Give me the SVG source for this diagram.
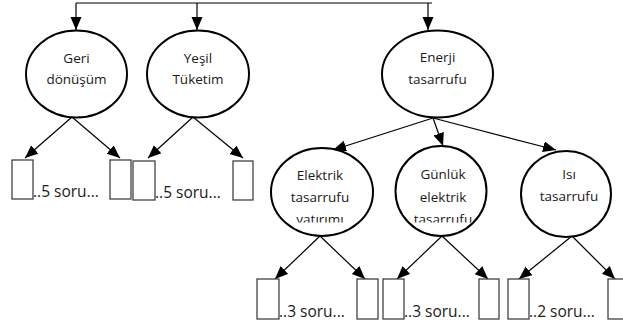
<svg xmlns="http://www.w3.org/2000/svg" width="623" height="326" viewBox="0 0 623 326">
<style>
.node ellipse{fill:#fff;stroke:#000;stroke-width:2}
.lbl{font-family:"Open Sans","Liberation Sans",sans-serif;font-size:13.5px;fill:#1a1a1a;text-anchor:middle}
.box{fill:#fff;stroke:#333;stroke-width:1.2}
.cnt{font-family:"Open Sans","Liberation Sans",sans-serif;font-size:15.5px;fill:#1a1a1a}
#connectors path,#connectors line{stroke:#000;stroke-width:1.2;fill:none}
</style>
<defs>
<marker id="ah" markerUnits="userSpaceOnUse" markerWidth="15" markerHeight="12" refX="13" refY="5.5" orient="auto">
<path d="M0,0 L13,5.5 L0,11 Z" fill="#000"/>
</marker>
<clipPath id="clip3"><rect x="0" y="0" width="623" height="222.5"/></clipPath>
</defs>
<g id="connectors">
<path d="M76,3 H432"/>
<line x1="76" y1="3" x2="76" y2="30" marker-end="url(#ah)"/>
<line x1="197" y1="3" x2="197" y2="30" marker-end="url(#ah)"/>
<line x1="428" y1="3" x2="428" y2="30" marker-end="url(#ah)"/>
<line x1="72" y1="117" x2="25" y2="158" marker-end="url(#ah)"/>
<line x1="72" y1="117" x2="120" y2="158" marker-end="url(#ah)"/>
<line x1="193" y1="117" x2="148" y2="158" marker-end="url(#ah)"/>
<line x1="193" y1="117" x2="243" y2="158" marker-end="url(#ah)"/>
<line x1="433" y1="118" x2="333" y2="150" marker-end="url(#ah)"/>
<line x1="433" y1="118" x2="443" y2="146" marker-end="url(#ah)"/>
<line x1="433" y1="118" x2="556" y2="150" marker-end="url(#ah)"/>
<line x1="320" y1="236" x2="275" y2="279" marker-end="url(#ah)"/>
<line x1="320" y1="236" x2="365" y2="279" marker-end="url(#ah)"/>
<line x1="442" y1="236" x2="397" y2="279" marker-end="url(#ah)"/>
<line x1="442" y1="236" x2="488" y2="279" marker-end="url(#ah)"/>
<line x1="572" y1="236" x2="519" y2="279" marker-end="url(#ah)"/>
<line x1="572" y1="236" x2="615" y2="279" marker-end="url(#ah)"/>
</g>
<g id="geri" class="node">
<ellipse cx="76.5" cy="74" rx="50.5" ry="43.5"/>
<text class="lbl" x="76.5" y="63">Geri</text>
<text class="lbl" x="76.5" y="84">dönüşüm</text>
</g>
<g id="yesil" class="node">
<ellipse cx="198" cy="74" rx="51" ry="43.5"/>
<text class="lbl" x="198" y="63">Yeşil</text>
<text class="lbl" x="198" y="84">Tüketim</text>
</g>
<g id="enerji" class="node">
<ellipse cx="437.5" cy="74" rx="55.5" ry="43.5"/>
<text class="lbl" x="437.5" y="62">Enerji</text>
<text class="lbl" x="437.5" y="84">tasarrufu</text>
</g>
<g id="elektrik" class="node">
<ellipse cx="322" cy="192" rx="51" ry="44"/>
<text class="lbl" x="320" y="180">Elektrik</text>
<text class="lbl" x="320" y="202">tasarrufu</text>
<text class="lbl" x="320" y="224" clip-path="url(#clip3)">yatırımı</text>
</g>
<g id="gunluk" class="node">
<ellipse cx="441" cy="191" rx="45.5" ry="45"/>
<text class="lbl" x="443" y="179">Günlük</text>
<text class="lbl" x="443" y="202">elektrik</text>
<text class="lbl" x="443" y="224" clip-path="url(#clip3)">tasarrufu</text>
</g>
<g id="isi" class="node">
<ellipse cx="566" cy="194" rx="45" ry="43"/>
<text class="lbl" x="569" y="179">Isı</text>
<text class="lbl" x="569" y="201">tasarrufu</text>
</g>
<g id="q-geri">
<rect class="box" x="12" y="160" width="21" height="39"/>
<rect class="box" x="110" y="160" width="21" height="39"/>
<text class="cnt" x="33" y="197">..5 soru...</text>
</g>
<g id="q-yesil">
<rect class="box" x="133" y="161" width="22" height="39"/>
<rect class="box" x="233" y="161" width="20" height="39"/>
<text class="cnt" x="155" y="198">..5 soru...</text>
</g>
<g id="q-elektrik">
<rect class="box" x="257" y="279" width="22" height="40"/>
<rect class="box" x="357" y="279" width="21" height="40"/>
<text class="cnt" x="279" y="317">..3 soru...</text>
</g>
<g id="q-gunluk">
<rect class="box" x="383" y="279" width="21" height="40"/>
<rect class="box" x="479" y="279" width="20" height="40"/>
<text class="cnt" x="404" y="317">..3 soru...</text>
</g>
<g id="q-isi">
<rect class="box" x="508" y="279" width="21" height="40"/>
<rect class="box" x="608" y="279" width="22" height="40"/>
<text class="cnt" x="529" y="317">..2 soru...</text>
</g>
</svg>
